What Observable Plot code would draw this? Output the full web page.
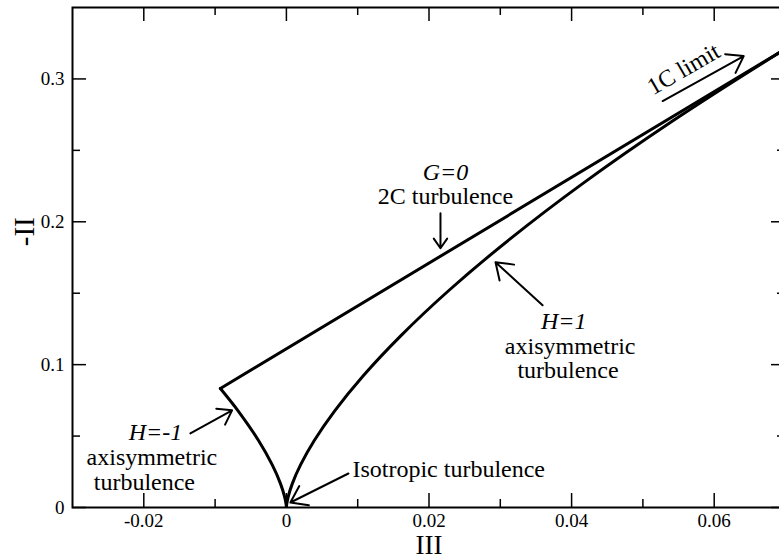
<!DOCTYPE html>
<html>
<head>
<meta charset="utf-8">
<script src="https://cdn.jsdelivr.net/npm/d3@7"></script>
<script src="https://cdn.jsdelivr.net/npm/@observablehq/plot@0.6"></script>
<style>
  html, body { margin: 0; padding: 0; background: #fff; }
  #chart svg { display: block; }
  #chart svg, #chart svg text { font-family: "Liberation Serif", "Times New Roman", serif; }
</style>
</head>
<body>
<div id="chart"></div>
<script>
// ---- Data (III, -II) ----
// 2C limit (G=0) straight boundary
const line2C_III = [-0.00926, 0.07407];
const line2C_II  = [0.0833, 0.3333];
// H=-1 axisymmetric branch (left)
const axiNeg_III = [-0.00926, -0.00675, -0.00391, -0.0020, -0.000844, -0.00025, -0.0000313, 0];
const axiNeg_II  = [0.0833, 0.0675, 0.0469, 0.0300, 0.0169, 0.0075, 0.0019, 0];
// H=1 axisymmetric branch (right)
const axiPos_III = [0, 0.0000039, 0.0000313, 0.00025, 0.000844, 0.0020, 0.00391, 0.00675, 0.01072, 0.0160, 0.02278, 0.03125, 0.04159, 0.0540, 0.06866, 0.07407];
const axiPos_II  = [0, 0.00047, 0.0019, 0.0075, 0.0169, 0.0300, 0.0469, 0.0675, 0.0919, 0.1200, 0.1519, 0.1875, 0.2269, 0.2700, 0.3169, 0.3333];

// Ticks
const xMajor = [-0.02, 0, 0.02, 0.04, 0.06];
const xMinor = [-0.01, 0.01, 0.03, 0.05];
const yMajor = [0, 0.1, 0.2, 0.3];
const yMinor = [0.05, 0.15, 0.25];
const xLabel = "III";
const yLabel = "-II";

// Annotations (italic labels)
const italText = ["G=0", "H=1", "H=-1"];
const italIII  = [0.0223, 0.0389, -0.01837];
const italII   = [0.2345, 0.1306, 0.0524];
// Annotations (upright, centred)
const upText = ["2C turbulence", "axisymmetric", "turbulence", "axisymmetric", "turbulence"];
const upIII  = [0.0223, 0.0398, 0.0395, -0.01886, -0.01992];
const upII   = [0.2177, 0.1131, 0.0963, 0.0348, 0.0173];
// Annotation (upright, left-aligned)
const isoText = ["Isotropic turbulence"];
const isoIII  = [0.00926];
const isoII   = [0.0266];
// Rotated annotation
const rotText = ["1C limit"];
const rotIII  = [0.0557];
const rotII   = [0.3069];

// Arrows
const arrIII1 = [0.02161, 0.03593, -0.01347, 0.0087, 0.05277];
const arrII1  = [0.2060, 0.1416, 0.0519, 0.0238, 0.2845];
const arrIII2 = [0.02161, 0.02933, -0.00762, 0.00056, 0.06414];
const arrII2  = [0.1815, 0.1717, 0.0680, 0.0035, 0.3160];

// ---- Build tables ----
const toPts = (xs, ys) => xs.map((x, i) => ({x, y: ys[i]}));
const toTxt = (ts, xs, ys) => ts.map((t, i) => ({t, x: xs[i], y: ys[i]}));
const arrows = arrIII1.map((x1, i) => ({x1, y1: arrII1[i], x2: arrIII2[i], y2: arrII2[i]}));

const W = 779, H = 559;
const mL = 72, mR = -6, mT = 7, mB = 52;
const innerW = W - mL - mR, innerH = H - mT - mB;
const major = 14, minor = 8;
const serif = "Liberation Serif";
const annSize = 24;
const fmt = d => d === 0 ? "0" : String(d);

const plot = Plot.plot({
  width: W, height: H,
  marginLeft: mL, marginRight: mR, marginTop: mT, marginBottom: mB,
  style: {fontSize: "19px", color: "#000", background: "#fff"},
  x: {domain: [-0.03, 0.07], axis: null},
  y: {domain: [0, 0.35], axis: null},
  marks: [
    // curves
    Plot.line(toPts(line2C_III, line2C_II), {x: "x", y: "y", stroke: "#000", strokeWidth: 3, clip: true}),
    Plot.line(toPts(axiNeg_III, axiNeg_II), {x: "x", y: "y", stroke: "#000", strokeWidth: 3, curve: "catmull-rom", clip: true}),
    Plot.line(toPts(axiPos_III, axiPos_II), {x: "x", y: "y", stroke: "#000", strokeWidth: 3, curve: "catmull-rom", clip: true}),
    // frame
    Plot.frame({stroke: "#000", strokeWidth: 2}),
    // inward ticks: bottom
    Plot.tickX(xMajor, {x: d => d, insetTop: innerH - major, stroke: "#000", strokeWidth: 1.5}),
    Plot.tickX(xMinor, {x: d => d, insetTop: innerH - minor, stroke: "#000", strokeWidth: 1.5}),
    // top
    Plot.tickX(xMajor, {x: d => d, insetBottom: innerH - major, stroke: "#000", strokeWidth: 1.5}),
    Plot.tickX(xMinor, {x: d => d, insetBottom: innerH - minor, stroke: "#000", strokeWidth: 1.5}),
    // left
    Plot.tickY(yMajor, {y: d => d, insetRight: innerW - major, stroke: "#000", strokeWidth: 1.5}),
    Plot.tickY(yMinor, {y: d => d, insetRight: innerW - minor, stroke: "#000", strokeWidth: 1.5}),
    // right
    Plot.tickY(yMajor, {y: d => d, insetLeft: innerW - major, stroke: "#000", strokeWidth: 1.5}),
    Plot.tickY(yMinor, {y: d => d, insetLeft: innerW - minor, stroke: "#000", strokeWidth: 1.5}),
    // tick labels
    Plot.axisX(xMajor, {anchor: "bottom", tickSize: 0, tickPadding: 6, tickFormat: fmt, label: null, fontSize: 19, fontFamily: serif, fill: "#000"}),
    Plot.axisY(yMajor, {anchor: "left", tickSize: 0, tickPadding: 8, tickFormat: fmt, label: null, fontSize: 19, fontFamily: serif, fill: "#000"}),
    // axis titles
    Plot.text([xLabel], {frameAnchor: "bottom", dy: 38, lineAnchor: "middle", textAnchor: "middle", text: d => d, fontSize: 27, fontFamily: serif, fill: "#000"}),
    Plot.text([yLabel], {frameAnchor: "left", y: () => 0.193, dx: -48, rotate: -90, lineAnchor: "middle", textAnchor: "middle", text: d => d, fontSize: 29, fontFamily: serif, fill: "#000"}),
    // annotations
    Plot.text(toTxt(italText, italIII, italII), {x: "x", y: "y", text: "t", fontSize: annSize, fontFamily: serif, fontStyle: "italic", fill: "#000"}),
    Plot.text(toTxt(upText, upIII, upII), {x: "x", y: "y", text: "t", fontSize: annSize, fontFamily: serif, fill: "#000"}),
    Plot.text(toTxt(isoText, isoIII, isoII), {x: "x", y: "y", text: "t", textAnchor: "start", fontSize: annSize, fontFamily: serif, fill: "#000"}),
    Plot.text(toTxt(rotText, rotIII, rotII), {x: "x", y: "y", text: "t", rotate: -30, fontSize: annSize, fontFamily: serif, fill: "#000"}),
    Plot.arrow(arrows, {x1: "x1", y1: "y1", x2: "x2", y2: "y2", stroke: "#000", strokeWidth: 2,
      headLength: 14, headAngle: 70})
  ]
});
document.getElementById("chart").appendChild(plot);
</script>
</body>
</html>
